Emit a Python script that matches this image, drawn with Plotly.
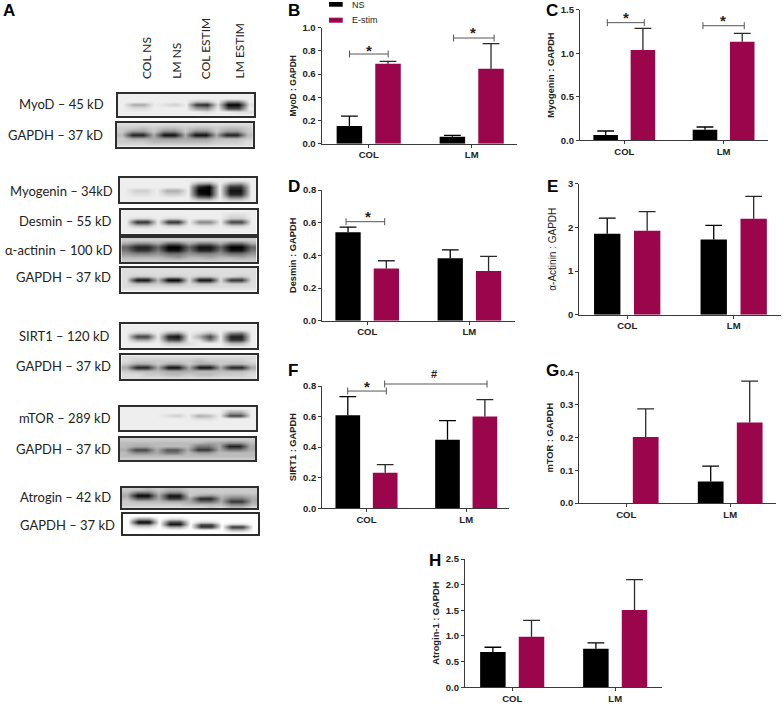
import plotly.graph_objects as go

W, H = 783, 705

GROUPS = ["COL", "LM"]
NS_NAME = "NS"
STIM_NAME = "E-stim"

# valores
MYOD_NS = [0.152, 0.06]
MYOD_NS_ERR = [0.086, 0.012]
MYOD_STIM = [0.69, 0.647]
MYOD_STIM_ERR = [0.02, 0.215]

MYOG_NS = [0.06, 0.122]
MYOG_NS_ERR = [0.047, 0.031]
MYOG_STIM = [1.037, 1.133]
MYOG_STIM_ERR = [0.249, 0.095]

DESMIN_NS = [0.541, 0.382]
DESMIN_NS_ERR = [0.032, 0.051]
DESMIN_STIM = [0.32, 0.304]
DESMIN_STIM_ERR = [0.047, 0.09]

ACTININ_NS = [1.855, 1.725]
ACTININ_NS_ERR = [0.355, 0.321]
ACTININ_STIM = [1.92, 2.2]
ACTININ_STIM_ERR = [0.44, 0.51]

SIRT_NS = [0.608, 0.449]
SIRT_NS_ERR = [0.122, 0.124]
SIRT_STIM = [0.233, 0.6]
SIRT_STIM_ERR = [0.053, 0.111]

MTOR_NS = [None, 0.066]
MTOR_NS_ERR = [None, 0.047]
MTOR_STIM = [0.202, 0.246]
MTOR_STIM_ERR = [0.086, 0.127]

ATROGIN_NS = [0.688, 0.753]
ATROGIN_NS_ERR = [0.092, 0.111]
ATROGIN_STIM = [0.987, 1.506]
ATROGIN_STIM_ERR = [0.318, 0.591]

# corchetes: x0, x1, y del corchete, simbolo, x e y del simbolo
MYOD_MARKS = [(-0.186, 0.189, 0.773, "*", 0.002, 0.83), (0.824, 1.218, 0.911, "*", 1.015, 0.982)]
MYOG_MARKS = [(-0.171, 0.201, 1.351, "*", 0.017, 1.44), (0.792, 1.208, 1.316, "*", 0.993, 1.41)]
DESMIN_MARKS = [(-0.207, 0.171, 0.606, "*", 0.008, 0.655)]
SIRT_MARKS = [(-0.189, 0.199, 0.767, "*", 0.008, 0.815), (0.182, 1.209, 0.813, "#", 0.68, 0.88)]

# cada blot: filas de grises en hexadecimal (0 negro, f blanco), 4 carriles
BLOT_MYOD = ["eeeeeeeeeeeee", "eeeeeeeeeeeee", "eeeeeeebbe77e", "eaaedce32d00d", "eddeeee98e44e", "eeeeeeeedeedd", "eeeeeeeeeeeee"]
BLOT_GAPDH1 = ["ddddddddddddd", "ccbcbbcbbcbbc", "c99c88c88c99c", "b22a11a11a22b", "caaa99a99bbbc", "cccbbbbbbcccd", "ddddddddddddd"]
BLOT_MYOG = ["eeeeeeeeeeeee", "eeeeeeea9ea9e", "eeeeeee20e33e", "ecceaae00e11e", "eddecce10e22e", "eeeeeee76e88e", "eeeeeeeddedde"]
BLOT_DESMIN = ["eeeeeeeeeeeee", "eeeeeeeeeedde", "eddeddeeeecce", "e33e33e88e44e", "ebbecceddecce", "eeeeeeeeeeeee", "eeeeeeeeeeeee"]
BLOT_ACTININ = ["ccccccccccccc", "a88a66a77a66a", "6226006116006", "7337117227117", "9889779889779", "bbbba9bbabbab", "ccccccccccccc"]
BLOT_GAPDH2 = ["ddddddddddddd", "ddddddddddddd", "dccdccdccddcd", "d11b00d11d33d", "dbbcaadbbdccd", "ddddddddddddd", "eeeeeeeeeeeee"]
BLOT_SIRT = ["eeeeeeeeeeeee", "eeeeeeeeeeeee", "eccea9edbe87e", "e44e21ea4e22e", "eaae54ed7e33e", "eeeeccdeeebbe", "eeeeeeeeeeeee"]
BLOT_GAPDH3 = ["ddddddddddddd", "dccccccbccccd", "caacaacaacbbc", "a22a11a11a22a", "cbbbaaabbbbbc", "ddccbbcbbcccd", "ddddddddddddd"]
BLOT_MTOR = ["eeeeeeeeeeeee", "eeeeeeeeeeaae", "eeeedceabe44e", "eeeeeeeddeeee", "eeeeeeeeeeeee", "eeeeeeeeeeeee", "eeeeeeeeeeeee"]
BLOT_GAPDH4 = ["ccccccccccccc", "bbbbbbbbaa99b", "baabbbb77a22a", "a44a55a33a77a", "b88a77b99bbbb", "bbbbbbbbbbbbb", "ccccccccccccc"]
BLOT_ATROGIN = ["ccbcbbccccccc", "b77b88ccccccc", "a00a11ca9baab", "b55a33a22a77a", "cbbbaaa66a33a", "ccccccbbbb88b", "ddddddddcdbbd"]
BLOT_GAPDH5 = ["fffffffffffff", "f99fddfffffff", "f00f44fddffff", "f88f11f44fccf", "fddfaaf33f33f", "ffffffffffbbf", "fffffffffffff"]

BLACK = "#000000"
CRIMSON = "#9b054c"
AXIS = "#3a3a3a"
TEXT = "#222222"
BRACKET = "#555555"
ERR_STIM = "#2a2a2a"
SANS = "Liberation Sans, Arial, sans-serif"
LABEL_FONT = "Lato, Open Sans, sans-serif"
BARGAP = 0.25
BAR_OFFSET = (1 - BARGAP) / 4


def px_x(x):
    return x / W


def px_y(y):
    return 1 - y / H


fig = go.Figure()
annotations = []
shapes = []


def add_text(text, x, y, size, anchor="left", font=SANS, angle=0, yanchor="middle", color=TEXT):
    annotations.append(dict(text=text, xref="paper", yref="paper", x=px_x(x), y=px_y(y),
                            xanchor=anchor, yanchor=yanchor, showarrow=False, textangle=angle,
                            font=dict(family=font, size=size, color=color)))


def add_series(name, values, errs, color, err_color, xname, yname, side):
    # la barra de error de plotly dibuja tambien un remate abajo: sin remates y el de arriba con marcador
    fig.add_trace(go.Bar(x=[0, 1], y=values, name=name, marker_color=color, xaxis=xname, yaxis=yname,
                         showlegend=False,
                         error_y=dict(type="data", array=errs, symmetric=False, arrayminus=[0, 0],
                                      color=err_color, thickness=1.3, width=0)))
    tops = [None if v is None else v + e for v, e in zip(values, errs)]
    fig.add_trace(go.Scatter(x=[side * BAR_OFFSET, 1 + side * BAR_OFFSET], y=tops, mode="markers",
                             xaxis=xname, yaxis=yname, showlegend=False, hoverinfo="skip",
                             marker=dict(symbol="line-ew", size=12, line=dict(color=err_color, width=1.3))))


def add_panel(n, title, ns, ns_err, stim, stim_err, box, ymax, dtick, fmt, marks=(), headroom=0,
              title_size=9.3, title_weight="bold", standoff=4):
    left, right, top, bottom, center, step = box
    xname = "x" if n == 1 else f"x{n}"
    yname = "y" if n == 1 else f"y{n}"
    xrange = [(left - center) / step, (right - center) / step]
    add_series(NS_NAME, ns, ns_err, BLACK, BLACK, xname, yname, -1)
    add_series(STIM_NAME, stim, stim_err, CRIMSON, ERR_STIM, xname, yname, 1)
    # ejes ocultos con mas altura para lo que sobresale del rango (panel F)
    mark_x, mark_y = xname, yname
    if headroom:
        mark_x, mark_y = f"x{n + 20}", f"y{n + 20}"
        fig.update_layout(**{
            f"xaxis{n + 20}": dict(domain=[px_x(left), px_x(right)], anchor=mark_y, range=xrange, visible=False),
            f"yaxis{n + 20}": dict(domain=[px_y(bottom), px_y(top - headroom * (bottom - top))], anchor=mark_x,
                                   range=[0, ymax * (1 + headroom)], visible=False)})
    for x0, x1, y, sym, sx, sy in marks:
        fig.add_trace(go.Scatter(x=[x0, x1], y=[y, y], mode="lines+markers", xaxis=mark_x, yaxis=mark_y,
                                 showlegend=False, cliponaxis=False, hoverinfo="skip",
                                 line=dict(color=BRACKET, width=1),
                                 marker=dict(symbol="line-ns", size=5, line=dict(color=BRACKET, width=1))))
        annotations.append(dict(text=f"<b>{sym}</b>", xref=mark_x, yref=mark_y, x=sx, y=sy, showarrow=False,
                                yshift=-3 if sym == "*" else 0,
                                font=dict(family=SANS, size=15 if sym == "*" else 11, color=TEXT)))
    fig.update_layout(**{
        ("xaxis" if n == 1 else f"xaxis{n}"): dict(
            domain=[px_x(left), px_x(right)], anchor=yname, range=xrange,
            tickvals=[0, 1], ticktext=GROUPS, ticks="outside", ticklen=3, tickwidth=1.2,
            ticklabelstandoff=-1,
            tickcolor=AXIS, showline=True, linecolor=AXIS, linewidth=1.3, showgrid=False, zeroline=False,
            tickfont=dict(family=SANS, size=9.5, color=TEXT, weight="bold")),
        ("yaxis" if n == 1 else f"yaxis{n}"): dict(
            domain=[px_y(bottom), px_y(top)], anchor=xname, range=[0, ymax], dtick=dtick,
            tickformat=fmt, ticks="outside", ticklen=3, tickwidth=1.2, tickcolor=AXIS,
            showline=True, linecolor=AXIS, linewidth=1.3, showgrid=False, zeroline=False,
            tickfont=dict(family=SANS, size=9.5, color=TEXT, weight="bold"),
            title=dict(text=title, standoff=standoff,
                       font=dict(family=SANS, size=title_size, color=TEXT, weight=title_weight))),
    })


add_panel(1, "MyoD : GAPDH", MYOD_NS, MYOD_NS_ERR, MYOD_STIM, MYOD_STIM_ERR,
          (321.7, 517.3, 27.7, 143.7, 368.7, 103), 1.0, 0.2, ".1f", MYOD_MARKS, title_size=8.5)
add_panel(2, "Myogenin : GAPDH", MYOG_NS, MYOG_NS_ERR, MYOG_STIM, MYOG_STIM_ERR,
          (580, 767.7, 9.7, 140.3, 624.3, 99.3), 1.5, 0.5, ".1f", MYOG_MARKS)
add_panel(3, "Desmin : GAPDH", DESMIN_NS, DESMIN_NS_ERR, DESMIN_STIM, DESMIN_STIM_ERR,
          (322.3, 515, 190, 320.7, 367.2, 102.2), 0.8, 0.2, ".1f", DESMIN_MARKS)
add_panel(4, "α-Actinin : GAPDH", ACTININ_NS, ACTININ_NS_ERR, ACTININ_STIM, ACTININ_STIM_ERR,
          (579.3, 780.7, 183.7, 314.7, 627.2, 106.5), 3, 1, "d",
          title_size=10, title_weight="normal", standoff=9)
add_panel(5, "SIRT1 : GAPDH", SIRT_NS, SIRT_NS_ERR, SIRT_STIM, SIRT_STIM_ERR,
          (322.3, 509.3, 386, 508.3, 366.5, 99.7), 0.8, 0.2, ".1f", SIRT_MARKS, headroom=0.25)
add_panel(6, "mTOR : GAPDH", MTOR_NS, MTOR_NS_ERR, MTOR_STIM, MTOR_STIM_ERR,
          (579.3, 776, 372.3, 503, 626.2, 104), 0.4, 0.1, ".1f")
add_panel(7, "Atrogin-1 : GAPDH", ATROGIN_NS, ATROGIN_NS_ERR, ATROGIN_STIM, ATROGIN_STIM_ERR,
          (465, 662, 559, 687.3, 512.2, 103), 2.5, 0.5, ".1f")

# blots del panel A: (etiqueta, filas, x fin etiqueta, y etiqueta, caja izq, der, arriba, abajo)
BLOTS = [
    ("MyoD – 45 kD", BLOT_MYOD, 106, 104.5, 118, 254, 94, 115.7),
    ("GAPDH – 37 kD", BLOT_GAPDH1, 105.5, 135, 117, 252.7, 122.7, 146.7),
    ("Myogenin – 34kD", BLOT_MYOG, 115, 190.5, 120, 256, 177.7, 202.3),
    ("Desmin – 55 kD", BLOT_DESMIN, 114, 221, 121.3, 256.7, 209.7, 233.7),
    ("α-actinin – 100 kD", BLOT_ACTININ, 114, 250, 121.3, 256.7, 237.7, 262.3),
    ("GAPDH – 37 kD", BLOT_GAPDH2, 113, 277, 121.3, 256.7, 267.7, 291.7),
    ("SIRT1 – 120 kD", BLOT_SIRT, 111, 336, 121.3, 256.7, 324.3, 348.3),
    ("GAPDH – 37 kD", BLOT_GAPDH3, 113, 366, 121.3, 256.7, 355.3, 379.3),
    ("mTOR – 289 kD", BLOT_MTOR, 113, 418, 120, 256, 407, 430),
    ("GAPDH – 37 kD", BLOT_GAPDH4, 113, 449, 120, 255.3, 438, 460.3),
    ("Atrogin – 42 kD", BLOT_ATROGIN, 113, 497, 122, 257.3, 487.7, 508.3),
    ("GAPDH – 37 kD", BLOT_GAPDH5, 117, 525, 122.7, 258, 514.3, 534.3),
]

for i, (label, rows, lx, ly, left, right, top, bottom) in enumerate(BLOTS):
    n = i + 8
    z = [[int(c, 16) * 17 for c in row] for row in rows]
    fig.add_trace(go.Heatmap(z=z, zmin=0, zmax=255, zsmooth="best", showscale=False, hoverinfo="skip",
                             colorscale=[[0, "#000000"], [1, "#ffffff"]], xaxis=f"x{n}", yaxis=f"y{n}"))
    fig.update_layout(**{
        f"xaxis{n}": dict(domain=[px_x(left), px_x(right)], anchor=f"y{n}", showticklabels=False, ticks="",
                          showgrid=False, zeroline=False, showline=True, mirror=True,
                          linecolor="#2e2e2e", linewidth=1.5),
        f"yaxis{n}": dict(domain=[px_y(bottom), px_y(top)], anchor=f"x{n}", showticklabels=False, ticks="",
                          autorange="reversed", showgrid=False, zeroline=False, showline=True, mirror=True,
                          linecolor="#2e2e2e", linewidth=1.5),
    })
    add_text(label, lx, ly, 13, anchor="right", font=LABEL_FONT)

# carriles
LANES = ["COL NS", "LM NS", "COL ESTIM", "LM ESTIM"]
for lane, x in zip(LANES, [146, 175.7, 205.7, 239]):
    annotations.append(dict(text=lane, xref="paper", yref="paper", x=px_x(x), y=px_y(81), showarrow=False,
                            xanchor="center", yanchor="bottom", textangle=-90,
                            font=dict(family=LABEL_FONT, size=12, color=TEXT)))

# letras de panel
for letter, x, y in [("A", 1, 10), ("B", 285.7, 10), ("C", 544, 10), ("D", 285.7, 186.5),
                     ("E", 545, 186.5), ("F", 285.7, 370.5), ("G", 544, 370), ("H", 426.7, 560.5)]:
    add_text(f"<b>{letter}</b>", x, y, 17, color="#000000")

# leyenda
for name, color, y0, y1, ty in [(NS_NAME, BLACK, 2, 6.7, 5), (STIM_NAME, CRIMSON, 17.7, 22.7, 20)]:
    shapes.append(dict(type="rect", xref="paper", yref="paper", x0=px_x(329), x1=px_x(342.7),
                       y0=px_y(y0), y1=px_y(y1), fillcolor=color, line=dict(width=0)))
    add_text(name, 350, ty, 9)

fig.update_layout(template="none", width=W, height=H, margin=dict(l=0, r=0, t=0, b=0), paper_bgcolor="white",
                  plot_bgcolor="rgba(0,0,0,0)", barmode="group", bargap=BARGAP, bargroupgap=0.34,
                  showlegend=False, annotations=annotations, shapes=shapes)

# sin margen del body para que la figura quede en 0,0
fig.write_html("out.html", config={"displayModeBar": False}, post_script="document.body.style.margin='0';")
